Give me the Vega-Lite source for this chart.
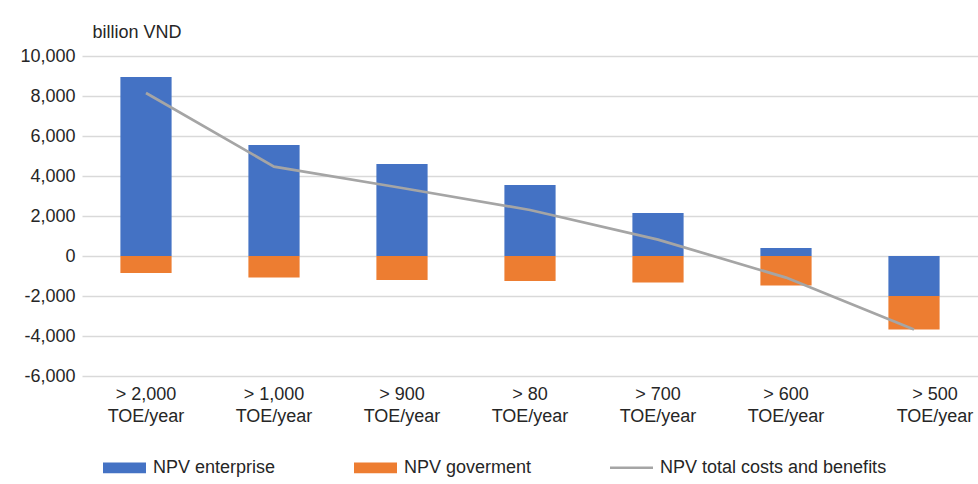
{
  "$schema": "https://vega.github.io/schema/vega-lite/v6.json",
  "width": 896,
  "height": 320,
  "autosize": {"type": "none"},
  "padding": {"left": 82, "top": 56, "right": 0, "bottom": 108},
  "background": "white",
  "config": {
    "view": {"stroke": null},
    "font": "Liberation Sans",
    "axis": {"labelFont": "Liberation Sans", "titleFont": "Liberation Sans"},
    "legend": {"labelFont": "Liberation Sans"}
  },
  "data": {
    "values": [
      {"category": "> 2,000 TOE/year", "series": "NPV enterprise", "value": 8950},
      {"category": "> 2,000 TOE/year", "series": "NPV goverment", "value": -850},
      {"category": "> 2,000 TOE/year", "series": "NPV total costs and benefits", "value": 8150},
      {"category": "> 1,000 TOE/year", "series": "NPV enterprise", "value": 5550},
      {"category": "> 1,000 TOE/year", "series": "NPV goverment", "value": -1080},
      {"category": "> 1,000 TOE/year", "series": "NPV total costs and benefits", "value": 4470},
      {"category": "> 900 TOE/year", "series": "NPV enterprise", "value": 4600},
      {"category": "> 900 TOE/year", "series": "NPV goverment", "value": -1200},
      {"category": "> 900 TOE/year", "series": "NPV total costs and benefits", "value": 3400},
      {"category": "> 80 TOE/year", "series": "NPV enterprise", "value": 3550},
      {"category": "> 80 TOE/year", "series": "NPV goverment", "value": -1250},
      {"category": "> 80 TOE/year", "series": "NPV total costs and benefits", "value": 2300},
      {"category": "> 700 TOE/year", "series": "NPV enterprise", "value": 2150},
      {"category": "> 700 TOE/year", "series": "NPV goverment", "value": -1330},
      {"category": "> 700 TOE/year", "series": "NPV total costs and benefits", "value": 820},
      {"category": "> 600 TOE/year", "series": "NPV enterprise", "value": 400},
      {"category": "> 600 TOE/year", "series": "NPV goverment", "value": -1480},
      {"category": "> 600 TOE/year", "series": "NPV total costs and benefits", "value": -1080},
      {"category": "> 500 TOE/year", "series": "NPV enterprise", "value": -2000},
      {"category": "> 500 TOE/year", "series": "NPV goverment", "value": -1680},
      {"category": "> 500 TOE/year", "series": "NPV total costs and benefits", "value": -3680}
    ]
  },
  "encoding": {
    "x": {
      "field": "category",
      "type": "nominal",
      "sort": null,
      "scale": {"paddingInner": 0.6, "paddingOuter": 0.3},
      "axis": {
        "title": null,
        "domain": false,
        "ticks": false,
        "labelAngle": 0,
        "labelFontSize": 18,
        "labelColor": "#262626",
        "labelPadding": 9,
        "labelLineHeight": 22,
        "labelExpr": "[replace(datum.label, ' TOE/year', ''), 'TOE/year']",
        "labelOffset": {"condition": {"test": "datum.value === '> 500 TOE/year'", "value": 21}, "value": 0}
      }
    },
    "y": {
      "field": "value",
      "type": "quantitative",
      "stack": "zero",
      "scale": {"domain": [-6000, 10000], "nice": false},
      "axis": {
        "values": [-6000, -4000, -2000, 0, 2000, 4000, 6000, 8000, 10000],
        "format": ",.0f",
        "labelExpr": "replace(datum.label, '\u2212', '-')",
        "labelOverlap": false,
        "domain": false,
        "ticks": false,
        "labelFontSize": 18,
        "labelColor": "#262626",
        "labelPadding": 7,
        "gridColor": "#D9D9D9",
        "gridWidth": 1.3,
        "title": "billion VND",
        "titleAngle": 0,
        "titleAlign": "left",
        "titleBaseline": "alphabetic",
        "titleX": 10,
        "titleY": -19,
        "titleFontSize": 18,
        "titleFontWeight": "normal",
        "titleColor": "#262626"
      }
    },
    "color": {
      "field": "series",
      "type": "nominal",
      "scale": {
        "domain": ["NPV enterprise", "NPV goverment", "NPV total costs and benefits"],
        "range": ["#4472C4", "#ED7D31", "#A5A5A5"]
      },
      "legend": {
        "title": null,
        "orient": "none",
        "direction": "horizontal",
        "columns": 3,
        "legendX": 21,
        "legendY": 390,
        "padding": 0,
        "gridAlign": "each",
        "columnPadding": 78,
        "labelFontSize": 18,
        "labelLimit": 400,
        "labelColor": "#262626",
        "labelOffset": 7,
        "symbolSize": 1849,
        "symbolStrokeWidth": 0,
        "symbolType": "M-1,-0.25H1V0.25H-1Z",
        "encode": {
          "symbols": {
            "update": {
              "shape": [
                {"test": "datum.label === 'NPV total costs and benefits'", "value": "M-1,-0.06H1V0.06H-1Z"},
                {"value": "M-1,-0.25H1V0.25H-1Z"}
              ]
            }
          }
        }
      }
    }
  },
  "layer": [
    {
      "transform": [{"filter": "datum.series !== 'NPV total costs and benefits'"}],
      "mark": {"type": "bar"},
      "encoding": {
        "order": {"field": "series", "sort": "ascending"}
      }
    },
    {
      "transform": [{"filter": "datum.series === 'NPV total costs and benefits'"}],
      "mark": {"type": "line", "strokeWidth": 2.7, "color": "#A5A5A5"},
      "encoding": {}
    }
  ]
}
